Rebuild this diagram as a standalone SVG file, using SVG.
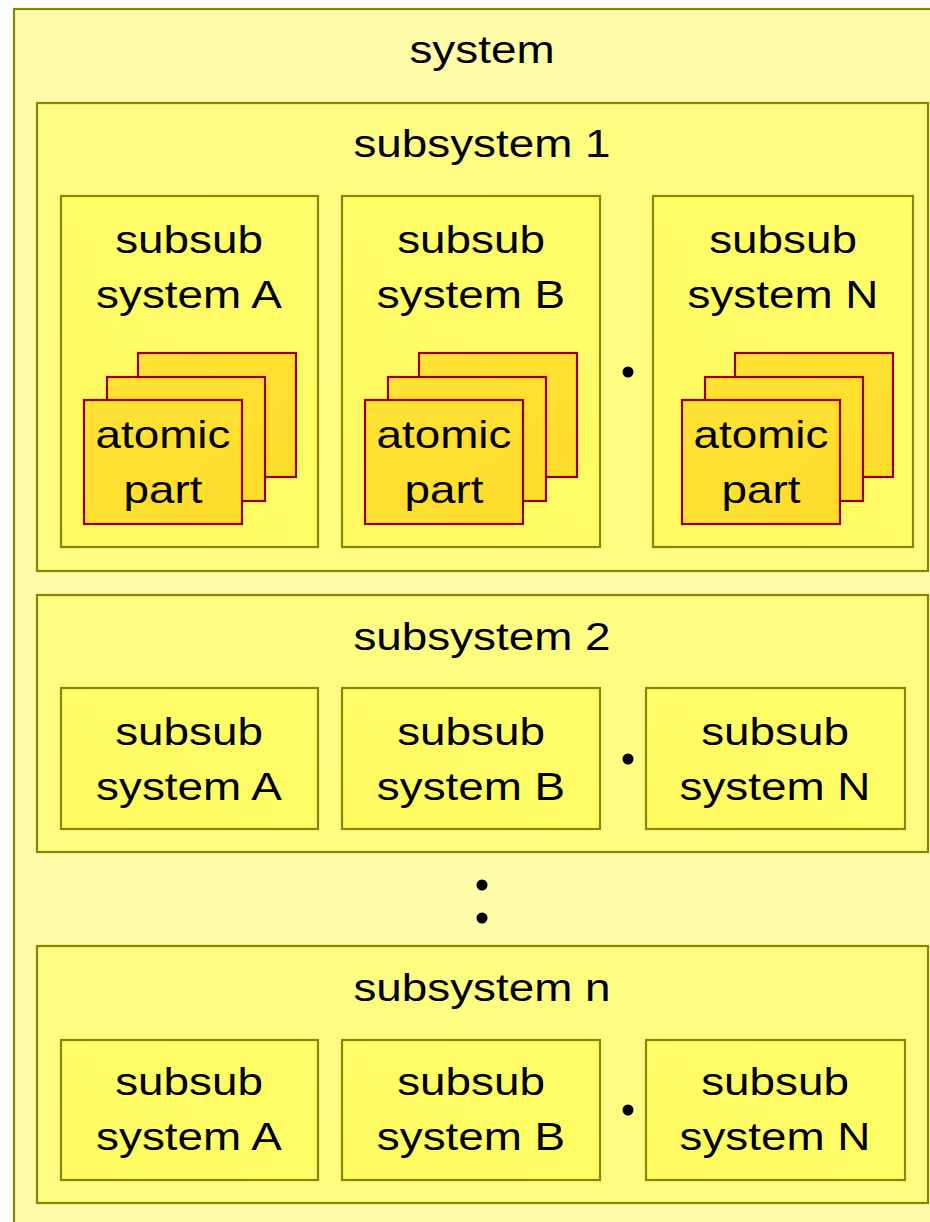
<svg xmlns="http://www.w3.org/2000/svg" width="930" height="1222" viewBox="0 0 930 1222">
<defs>
<style>
.sys{fill:#fffca8;stroke:#878700;stroke-width:2.2}
.sub{fill:#fffc82;stroke:#878700;stroke-width:2.2}
.ss{fill:url(#gss);stroke:#878700;stroke-width:2.2}
.at{fill:url(#gat);stroke:#940000;stroke-width:2.2}
text{font-family:"Liberation Sans",Arial,sans-serif;font-size:39.5px;fill:#000;text-anchor:middle}
.dot{fill:#000}
</style>
<linearGradient id="gss" x1="0" y1="1" x2="1" y2="0">
<stop offset="0" stop-color="#fffa60"/>
<stop offset="1" stop-color="#ffff6a"/>
</linearGradient>
<linearGradient id="gat" x1="0" y1="0" x2="1" y2="1">
<stop offset="0" stop-color="#ffe234"/>
<stop offset="1" stop-color="#fedc2c"/>
</linearGradient>
</defs>

<g id="system">
<rect class="sys" x="14" y="9" width="940" height="1240"/>
<g transform="translate(482,63) scale(1.16,1)"><text>system</text></g>
</g>

<g id="subsystem1">
<rect class="sub" x="37" y="103" width="891" height="468"/>
<g transform="translate(482,157) scale(1.16,1)"><text>subsystem 1</text></g>
</g>
<g id="s1A">
<rect class="ss" x="61" y="196" width="257" height="351"/>
<g transform="translate(189,253) scale(1.16,1)"><text>subsub</text></g>
<g transform="translate(189,308) scale(1.16,1)"><text>system A</text></g>
<rect class="at" x="138" y="353" width="158" height="124"/>
<rect class="at" x="107" y="377" width="158" height="124"/>
<rect class="at" x="84" y="400" width="158" height="124"/>
<g transform="translate(163,448) scale(1.16,1)"><text>atomic</text></g>
<g transform="translate(163,503) scale(1.16,1)"><text>part</text></g>
</g>
<g id="s1B">
<rect class="ss" x="342" y="196" width="258" height="351"/>
<g transform="translate(471,253) scale(1.16,1)"><text>subsub</text></g>
<g transform="translate(471,308) scale(1.16,1)"><text>system B</text></g>
<rect class="at" x="419" y="353" width="158" height="124"/>
<rect class="at" x="388" y="377" width="158" height="124"/>
<rect class="at" x="365" y="400" width="158" height="124"/>
<g transform="translate(444,448) scale(1.16,1)"><text>atomic</text></g>
<g transform="translate(444,503) scale(1.16,1)"><text>part</text></g>
</g>
<g id="s1N">
<rect class="ss" x="653" y="196" width="260" height="351"/>
<g transform="translate(783,253) scale(1.16,1)"><text>subsub</text></g>
<g transform="translate(783,308) scale(1.16,1)"><text>system N</text></g>
<rect class="at" x="735" y="353" width="158" height="124"/>
<rect class="at" x="705" y="377" width="158" height="124"/>
<rect class="at" x="682" y="400" width="158" height="124"/>
<g transform="translate(761,448) scale(1.16,1)"><text>atomic</text></g>
<g transform="translate(761,503) scale(1.16,1)"><text>part</text></g>
</g>

<g id="subsystem2">
<rect class="sub" x="37" y="595" width="891" height="257"/>
<g transform="translate(482,650) scale(1.16,1)"><text>subsystem 2</text></g>
</g>
<g id="s2A">
<rect class="ss" x="61" y="688" width="257" height="141"/>
<g transform="translate(189,745) scale(1.16,1)"><text>subsub</text></g>
<g transform="translate(189,800) scale(1.16,1)"><text>system A</text></g>
</g>
<g id="s2B">
<rect class="ss" x="342" y="688" width="258" height="141"/>
<g transform="translate(471,745) scale(1.16,1)"><text>subsub</text></g>
<g transform="translate(471,800) scale(1.16,1)"><text>system B</text></g>
</g>
<g id="s2N">
<rect class="ss" x="646" y="688" width="259" height="141"/>
<g transform="translate(775,745) scale(1.16,1)"><text>subsub</text></g>
<g transform="translate(775,800) scale(1.16,1)"><text>system N</text></g>
</g>

<g id="subsystemn">
<rect class="sub" x="37" y="946" width="891" height="257"/>
<g transform="translate(482,1001) scale(1.16,1)"><text>subsystem n</text></g>
</g>
<g id="snA">
<rect class="ss" x="61" y="1040" width="257" height="140"/>
<g transform="translate(189,1095) scale(1.16,1)"><text>subsub</text></g>
<g transform="translate(189,1150) scale(1.16,1)"><text>system A</text></g>
</g>
<g id="snB">
<rect class="ss" x="342" y="1040" width="258" height="140"/>
<g transform="translate(471,1095) scale(1.16,1)"><text>subsub</text></g>
<g transform="translate(471,1150) scale(1.16,1)"><text>system B</text></g>
</g>
<g id="snN">
<rect class="ss" x="646" y="1040" width="259" height="140"/>
<g transform="translate(775,1095) scale(1.16,1)"><text>subsub</text></g>
<g transform="translate(775,1150) scale(1.16,1)"><text>system N</text></g>
</g>

<g id="connectors">
<circle class="dot" cx="628" cy="372" r="5.5"/>
<circle class="dot" cx="628" cy="759" r="5.5"/>
<circle class="dot" cx="628" cy="1110" r="5.5"/>
<circle class="dot" cx="482" cy="885" r="5.5"/>
<circle class="dot" cx="482" cy="918" r="5.5"/>
</g>
</svg>
